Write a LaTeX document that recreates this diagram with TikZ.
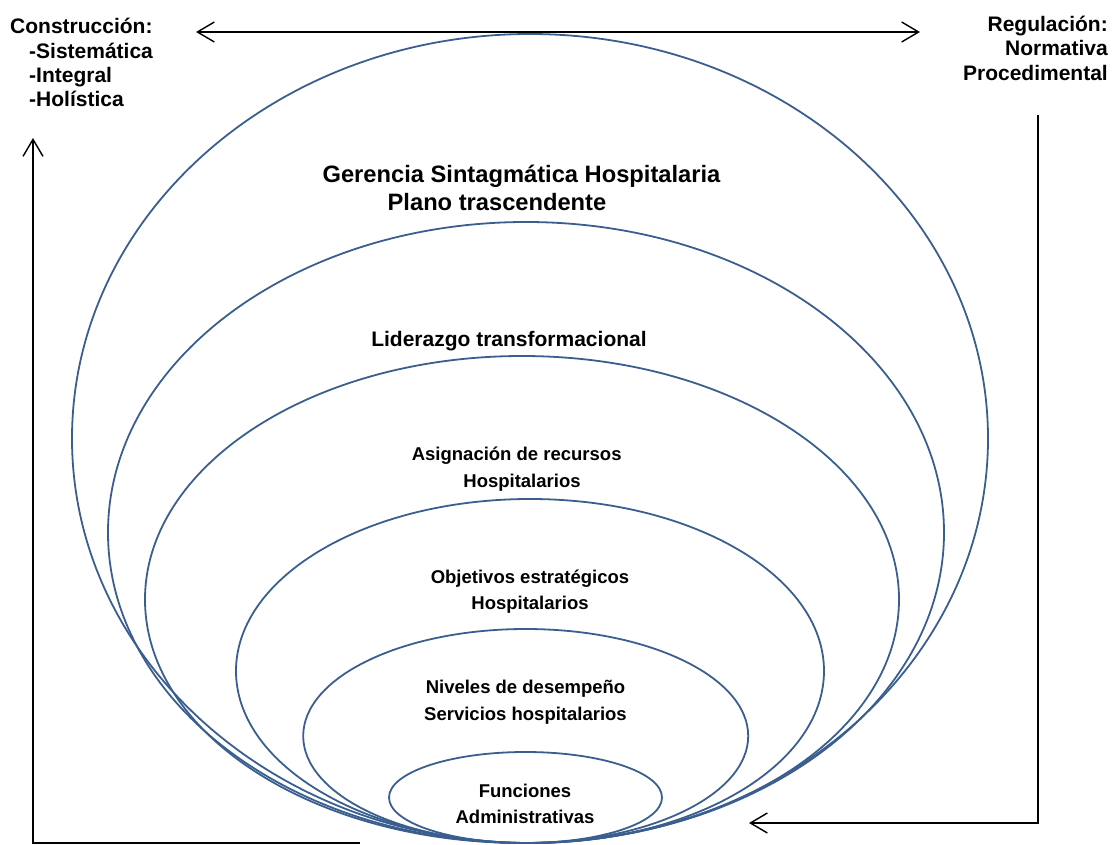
\documentclass[tikz,border=0pt]{standalone}
\usepackage{fontspec}
\setmainfont{Liberation Sans}
\usetikzlibrary{arrows.meta}
\definecolor{ringblue}{HTML}{3A5F8F}
\begin{document}
\begin{tikzpicture}[x=1pt,y=-1pt,
  ring/.style={draw=ringblue, line width=1.8pt},
  conn/.style={draw=black, line width=1.9pt},
  barb/.tip={Straight Barb[length=17pt,width=20pt,line width=1.4pt]},
  txtbig/.style={font=\fontsize{23.7}{28}\selectfont\bfseries, inner sep=0pt, anchor=base},
  txtmid/.style={font=\fontsize{21}{25}\selectfont\bfseries, inner sep=0pt},
  txtsmall/.style={font=\fontsize{18.5}{26}\selectfont\bfseries, inner sep=0pt, anchor=base}]
\useasboundingbox (0,0) rectangle (1117,845);

% nested levels, all resting on the same bottom point
\draw[ring] (530,438.5) ellipse [x radius=458, y radius=404.5];
\draw[ring] (526,532.5) ellipse [x radius=418, y radius=310.5];
\draw[ring] (522,599.5) ellipse [x radius=377, y radius=243.5];
\draw[ring] (530,671)   ellipse [x radius=294, y radius=172];
\draw[ring] (525.7,736) ellipse [x radius=222.5, y radius=107];
\draw[ring] (525.5,797.5) ellipse [x radius=136.5, y radius=45.5];

% level labels
\node[txtbig] (gerencia) at (521.5,183) {Gerencia Sintagmática Hospitalaria};
\node[txtbig] (plano) at (497,211) {Plano trascendente};
\node[txtmid, anchor=base] (liderazgo) at (509,346) {Liderazgo transformacional};
\node[txtsmall] (asignacion) at (516.7,460) {Asignación de recursos};
\node[txtsmall] (asignacionb) at (522,487) {Hospitalarios};
\node[txtsmall] (objetivos) at (530,583) {Objetivos estratégicos};
\node[txtsmall] (objetivosb) at (530,609) {Hospitalarios};
\node[txtsmall] (niveles) at (525.5,693) {Niveles de desempeño};
\node[txtsmall] (nivelesb) at (525.5,720) {Servicios hospitalarios};
\node[txtsmall] (funciones) at (525,797) {Funciones};
\node[txtsmall] (funcionesb) at (525,823) {Administrativas};

% side labels
\node[txtmid, anchor=base west] (construccion) at (10,34) {Construcción:};
\node[txtmid, anchor=base west] (sistematica) at (29,59) {-Sistemática};
\node[txtmid, anchor=base west] (integral) at (29,83) {-Integral};
\node[txtmid, anchor=base west] (holistica) at (29,107) {-Holística};
\node[txtmid, anchor=base east] (regulacion) at (1108,32) {Regulación:};
\node[txtmid, anchor=base east] (normativa) at (1108,56) {Normativa};
\node[txtmid, anchor=base east] (procedimental) at (1108,80.5) {Procedimental};

% connector end points
\coordinate (topL) at (196,32);
\coordinate (topR) at (920,32);
\coordinate (leftStart) at (360,843);
\coordinate (leftCorner) at (33,843);
\coordinate (leftTip) at (33,138);
\coordinate (rightStart) at (1038,115);
\coordinate (rightCorner) at (1038,823);
\coordinate (rightTip) at (749,823);

% connectors
\draw[conn, barb-barb] (topL) -- (topR);
\draw[conn, -barb] (leftStart) -- (leftCorner) -- (leftTip);
\draw[conn, -barb] (rightStart) -- (rightCorner) -- (rightTip);
\end{tikzpicture}
\end{document}
